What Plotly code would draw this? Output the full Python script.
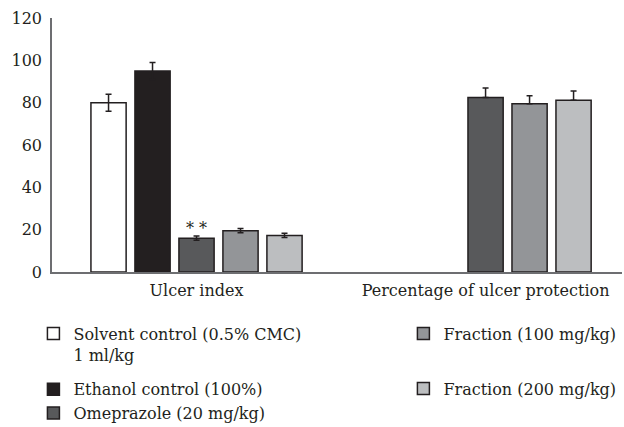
import plotly.graph_objects as go

categories = ["Ulcer index", "Percentage of ulcer protection"]
cat_pos = [0, 1]

series_names = [
    "Solvent control (0.5% CMC)<br>1 ml/kg",
    "Ethanol control (100%)",
    "Omeprazole (20 mg/kg)",
    "Fraction (100 mg/kg)",
    "Fraction (200 mg/kg)",
]
series_values = [
    [80, None],
    [95, None],
    [16, 82.5],
    [19.5, 79.5],
    [17.3, 81.1],
]
series_err_plus = [
    [4, 0],
    [4, 0],
    [1, 4.4],
    [1, 3.8],
    [1, 4.4],
]
series_err_minus = [
    [4, 0],
    [4, 0],
    [1, 0],
    [1, 0],
    [1, 0],
]
series_colors = ["#ffffff", "#231f20", "#58595b", "#939598", "#bcbec0"]
series_legend = ["legend", "legend", "legend", "legend2", "legend2"]
series_group = ["a", "b", "b", "c", "d"]

y_ticks = [0, 20, 40, 60, 80, 100, 120]

FONT = "DejaVu Serif"
INK = "#231f20"

fig = go.Figure()
for name, vals, ep, em, col, lg, grp in zip(series_names, series_values, series_err_plus,
                                             series_err_minus, series_colors, series_legend,
                                             series_group):
    fig.add_trace(go.Bar(
        x=cat_pos, y=vals, name=name,
        marker=dict(color=col, line=dict(color=INK, width=1.5)),
        error_y=dict(type="data", array=ep, arrayminus=em, symmetric=False,
                     color=INK, thickness=1.5, width=3),
        legend=lg, legendgroup=grp,
    ))

fig.add_annotation(x=cat_pos[0], y=series_values[2][0] + series_err_plus[2][0],
                   text="* *", showarrow=False, yanchor="bottom", yshift=-4,
                   font=dict(family=FONT, size=16, color=INK))

fig.update_layout(
    width=624, height=427,
    margin=dict(l=52, r=2, t=18, b=155, autoexpand=False),
    paper_bgcolor="white", plot_bgcolor="white",
    barmode="group", bargap=0.239, bargroupgap=0.2,
    font=dict(family=FONT, size=16, color=INK),
    showlegend=True,
    legend=dict(x=-0.0326, xanchor="left", y=-0.176, yanchor="top",
                valign="top", tracegroupgap=11,
                font=dict(family=FONT, size=16, color=INK),
                bgcolor="rgba(0,0,0,0)"),
    legend2=dict(x=0.6165, xanchor="left", y=-0.176, yanchor="top",
                 valign="top", tracegroupgap=31,
                 font=dict(family=FONT, size=16, color=INK),
                 bgcolor="rgba(0,0,0,0)"),
    xaxis=dict(range=[-0.5, 1.472], tickvals=cat_pos, ticktext=categories,
               showgrid=False, zeroline=False, showline=True,
               linecolor="#6d6e71", linewidth=1.5,
               ticks="outside", ticklen=3, tickcolor="rgba(0,0,0,0)",
               tickfont=dict(family=FONT, size=16, color=INK)),
    yaxis=dict(range=[0, 120], tickvals=y_ticks, showgrid=False, zeroline=False,
               showline=True, linecolor="#6d6e71", linewidth=1.5,
               ticks="outside", ticklen=5, tickcolor="rgba(0,0,0,0)",
               tickfont=dict(family=FONT, size=16, color=INK)),
)

fig.write_html("out.html",
               config={"displayModeBar": False},
               post_script="document.body.style.margin='0';document.body.style.overflow='hidden';")
